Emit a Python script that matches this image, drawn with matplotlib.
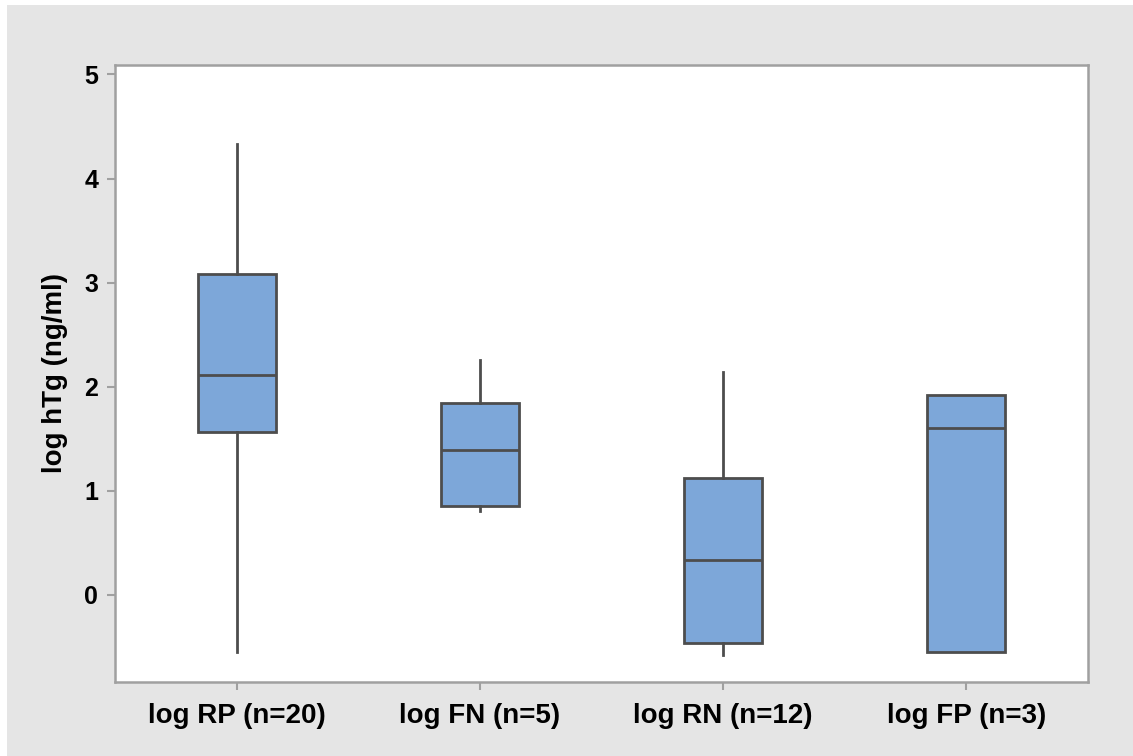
import matplotlib.pyplot as plt
from matplotlib.patches import Rectangle

# group labels and box statistics
labels = ['log RP (n=20)', 'log FN (n=5)', 'log RN (n=12)', 'log FP (n=3)']
whis_low = [-0.55, 0.81, -0.58, -0.55]
q1 = [1.57, 0.85, -0.46, -0.55]
median = [2.11, 1.39, 0.34, 1.60]
q3 = [3.08, 1.84, 1.12, 1.92]
whis_high = [4.33, 2.26, 2.14, 1.92]
yticks = [0, 1, 2, 3, 4, 5]

plt.rcParams['font.family'] = ['Liberation Sans', 'DejaVu Sans']

fig = plt.figure(figsize=(11.33, 7.56), dpi=100, facecolor='white')
# gray backdrop of the original graph window
fig.patches.append(Rectangle((7 / 1133, 0), 1, 1 - 5 / 756,
                             transform=fig.transFigure, facecolor='#e5e5e5',
                             edgecolor='none', zorder=-10))

ax = fig.add_axes([0.1015, 0.098, 0.8588, 0.816])
ax.set_facecolor('white')

stats = []
for i in range(len(labels)):
    stats.append({'label': labels[i], 'whislo': whis_low[i], 'q1': q1[i],
                  'med': median[i], 'q3': q3[i], 'whishi': whis_high[i],
                  'fliers': []})

edge = '#4d4d4d'
ax.bxp(stats, positions=[1, 2, 3, 4], widths=0.32, patch_artist=True,
       showcaps=False, showfliers=False,
       boxprops=dict(facecolor='#7da7d9', edgecolor=edge, linewidth=2),
       medianprops=dict(color=edge, linewidth=2),
       whiskerprops=dict(color=edge, linewidth=2))

ax.set_xlim(0.5, 4.5)
ax.set_ylim(-0.835, 5.09)
ax.set_yticks(yticks)
ax.set_yticklabels([str(t) for t in yticks])
ax.set_xticks([1, 2, 3, 4])
ax.set_xticklabels(labels)

for s in ax.spines.values():
    s.set_color('#a0a0a0')
    s.set_linewidth(1.8)

ax.tick_params(axis='both', colors='#a0a0a0', length=6, width=1.5,
               labelcolor='black')
ax.tick_params(axis='x', pad=9, labelsize=20)
ax.tick_params(axis='y', pad=6, labelsize=18)
for lab in ax.get_xticklabels() + ax.get_yticklabels():
    lab.set_fontweight('bold')

ax.set_ylabel('log hTg (ng/ml)', fontsize=20, fontweight='bold', labelpad=12)

fig.savefig('out.png', dpi=100, facecolor=fig.get_facecolor())
